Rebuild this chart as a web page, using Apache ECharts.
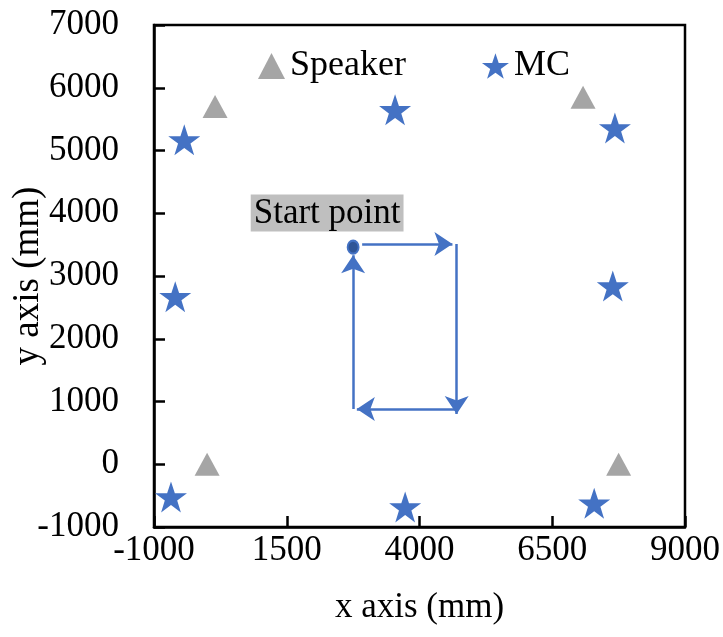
<!DOCTYPE html>
<html>
<head>
<meta charset="utf-8">
<script src="https://cdn.jsdelivr.net/npm/echarts@6/dist/echarts.min.js"></script>
<style>html,body{margin:0;padding:0;background:#fff}#c{width:723px;height:637px}</style>
</head>
<body>
<div id="c"></div>
<script>
// ---- data ----
var speakerX = [150, 7080, 0, 7750];
var speakerY = [5700, 5850, 0, 0];
var mcX = [-430, 3540, 7680, -600, 7640, -680, 3730, 7290];
var mcY = [5170, 5650, 5360, 2670, 2840, -520, -680, -620];
var startX = [2750];
var startY = [3460];
var pathX = [2920, 4620, 4700, 4700, 4700, 2820, 2750, 2750];   // segment start/end x
var pathY = [3510, 3510, 3510, 800, 880, 880, 880, 3330];       // segment start/end y
var xTicks = [-1000, 1500, 4000, 6500, 9000];
var yMin = -1000, yMax = 7000, yStep = 1000;
var seriesNames = ['Speaker', 'MC'];
var startLabel = 'Start point';

var FONT = 'Liberation Serif';
function pairs(xs, ys){ return xs.map(function(v,i){ return [v, ys[i]]; }); }
var segs = [];
for (var i = 0; i < pathX.length; i += 2) {
  segs.push({coords: [[pathX[i], pathY[i]], [pathX[i+1], pathY[i+1]]]});
}
function plain(v){ return String(v); }

var chart = echarts.init(document.getElementById('c'));
chart.setOption({
  backgroundColor: '#fff',
  animation: false,
  textStyle: {fontFamily: FONT, color: '#000'},
  grid: {left: 154, right: 38, top: 25, bottom: 110, show: true, borderColor: '#000', borderWidth: 2.5,
         containLabel: false, outerBoundsMode: 'none'},
  legend: {
    data: seriesNames,
    left: 253, top: 43,
    itemWidth: 27, itemHeight: 26, itemGap: 76,
    textStyle: {fontFamily: FONT, fontSize: 36, color: '#000'}
  },
  xAxis: {
    type: 'value', min: xTicks[0], max: xTicks[xTicks.length-1],
    name: 'x axis (mm)', nameLocation: 'middle', nameGap: 63, nameMoveOverlap: false,
    nameTextStyle: {fontFamily: FONT, fontSize: 35, color: '#000'},
    axisLine: {onZero: false, lineStyle: {color: '#000', width: 2.5}},
    axisTick: {inside: true, length: 11, lineStyle: {color: '#000', width: 2.5}, customValues: xTicks},
    axisLabel: {fontFamily: FONT, fontSize: 35, color: '#000', margin: 6, customValues: xTicks, formatter: plain},
    splitLine: {show: false}
  },
  yAxis: {
    type: 'value', min: yMin, max: yMax, interval: yStep,
    name: 'y axis (mm)', nameLocation: 'middle', nameGap: 107, nameRotate: 90, nameMoveOverlap: false,
    nameTextStyle: {fontFamily: FONT, fontSize: 37, color: '#000'},
    axisLine: {onZero: false, lineStyle: {color: '#000', width: 2.5}},
    axisTick: {inside: true, length: 11, lineStyle: {color: '#000', width: 2.5}},
    axisLabel: {fontFamily: FONT, fontSize: 35, color: '#000', margin: 35, formatter: plain},
    splitLine: {show: false}
  },
  series: [
    {
      name: seriesNames[0], type: 'scatter', symbol: 'triangle', symbolSize: [25, 23],
      itemStyle: {color: '#a5a5a5', opacity: 1}, data: pairs(speakerX, speakerY), z: 3
    },
    {
      name: seriesNames[1], type: 'scatter', symbol: 'path://M50,0 L61.8,35.5 L99,35.5 L69,57.5 L80.3,93 L50,71 L19.7,93 L31,57.5 L1,35.5 L38.2,35.5 Z',
      symbolSize: [32, 31], itemStyle: {color: '#4472c4', opacity: 1}, data: pairs(mcX, mcY), z: 3
    },
    {
      name: 'path', type: 'lines', coordinateSystem: 'cartesian2d',
      symbol: ['none', 'arrow'], symbolSize: [14, 18],
      lineStyle: {color: '#4472c4', width: 2.5, opacity: 1},
      data: segs, z: 2
    },
    {
      name: 'start', type: 'scatter', symbolSize: [11, 13],
      itemStyle: {color: '#2f5597', borderColor: '#4472c4', borderWidth: 2, opacity: 1},
      label: {
        show: true, formatter: startLabel, position: 'top', distance: 8, offset: [-26, 0],
        fontFamily: FONT, fontSize: 35, color: '#000', backgroundColor: '#bfbfbf', padding: [2, 3, 0, 3]
      },
      data: pairs(startX, startY), z: 4
    }
  ]
});
</script>
</body>
</html>
